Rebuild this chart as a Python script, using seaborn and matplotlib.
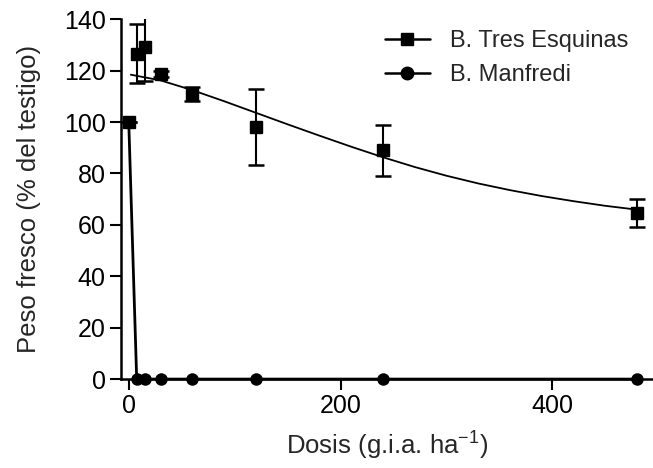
import numpy as np
import pandas as pd
import seaborn as sns
import matplotlib.pyplot as plt
from matplotlib.lines import Line2D

# dosis (g.i.a./ha)
dosis = [0, 7.5, 15, 30, 60, 120, 240, 480]

# B. Tres Esquinas: media y error
tres_media = [100, 126.5, 129, 118.7, 111, 98, 89, 64.6]
tres_err = [0, 11.5, 13, 1.2, 2.8, 14.8, 10, 5.6]

# curva ajustada
curva_x = [2, 30, 60, 90, 120, 150, 180, 210, 240, 270, 300, 330, 360, 390, 420, 450, 480]
curva_y = [118.4, 116.2, 112.4, 108.1, 103.6, 99.1, 94.7, 90.4, 86.3, 82.5, 79.1, 76.1, 73.5, 71.2, 69.2, 67.4, 65.9]

# B. Manfredi
manf_media = [100, 0, 0, 0, 0, 0, 0, 0]

sns.set_style("ticks")
plt.rcParams["font.family"] = ["Liberation Sans", "DejaVu Sans"]
plt.rcParams["mathtext.fontset"] = "custom"
plt.rcParams["mathtext.rm"] = "Liberation Sans"
plt.rcParams["mathtext.default"] = "rm"

fig = plt.figure(figsize=(6.53, 4.68), dpi=100)
ax = fig.add_axes([0.185, 0.19, 0.815, 0.769])

df_curva = pd.DataFrame({"x": curva_x, "y": curva_y})
sns.lineplot(data=df_curva, x="x", y="y", ax=ax, color="black", lw=1.3)

df_manf = pd.DataFrame({"x": dosis, "y": manf_media})
sns.lineplot(data=df_manf, x="x", y="y", ax=ax, color="black", lw=2,
             marker="o", markersize=9, markeredgewidth=0, clip_on=False)

ax.errorbar(dosis, tres_media, yerr=tres_err, fmt="s", color="black",
            markersize=9, capsize=5.5, capthick=1.8, elinewidth=1.5, zorder=5)

ax.set_xlim(-7.5, 495)
ax.set_ylim(0, 140)
ax.set_xticks([0, 200, 400])
ax.set_yticks(np.arange(0, 141, 20))
ax.tick_params(labelsize=18, length=8, width=1.5, pad=3, color="black", labelcolor="black")
for s in ["top", "right"]:
    ax.spines[s].set_visible(False)
for s in ["left", "bottom"]:
    ax.spines[s].set_linewidth(1.8)
    ax.spines[s].set_color("black")

ax.set_xlabel("Dosis (g.i.a. ha$^{-1}$)", fontsize=18.5, labelpad=8)
ax.set_ylabel("Peso fresco (% del testigo)", fontsize=18.5, labelpad=16)

handles = [
    Line2D([], [], color="black", lw=1.8, marker="s", markersize=9),
    Line2D([], [], color="black", lw=1.8, marker="o", markersize=9),
]
ax.legend(handles, ["B. Tres Esquinas", "B. Manfredi"], loc="upper left",
          bbox_to_anchor=(385 / 653, 1 - 30 / 468), bbox_transform=fig.transFigure,
          frameon=False, fontsize=17, borderpad=0, borderaxespad=0,
          handlelength=1.9, handletextpad=0.85, labelspacing=0.5)

fig.savefig("out.png", dpi=100)
